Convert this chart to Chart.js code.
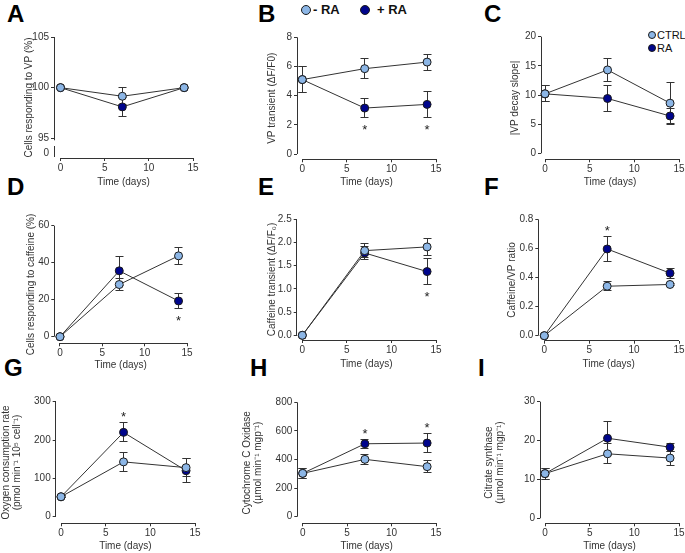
<!DOCTYPE html>
<html>
<head>
<meta charset="utf-8">
<script src="https://cdn.jsdelivr.net/npm/chart.js@4.4.1/dist/chart.umd.min.js"></script>
<style>
  body { margin: 0; background: #fff; }
  #fig { position: relative; width: 685px; height: 553px; overflow: hidden; font-family: 'Liberation Sans', Arial, sans-serif; }
  .letter { position: absolute; font-weight: bold; font-size: 24px; line-height: 24px; color: #000; }
  .dot { position: absolute; border: 1px solid #1a1a1a; border-radius: 50%; box-sizing: border-box; }
  .legtxt { position: absolute; white-space: nowrap; color: #111; }
</style>
</head>
<body>
<div id="fig">
  <div class="letter" style="left:7px;top:2px">A</div>
  <div class="letter" style="left:258px;top:2px">B</div>
  <div class="letter" style="left:484px;top:2px">C</div>
  <div class="letter" style="left:7px;top:175px">D</div>
  <div class="letter" style="left:258px;top:175px">E</div>
  <div class="letter" style="left:484px;top:175px">F</div>
  <div class="letter" style="left:4px;top:356px">G</div>
  <div class="letter" style="left:250px;top:356px">H</div>
  <div class="letter" style="left:478px;top:356px">I</div>

  <!-- legend of panel B -->
  <div class="dot" style="left:301px;top:5px;width:10px;height:10px;background:#8cb6e6"></div>
  <div class="legtxt" style="left:313px;top:2px;font-size:13px;line-height:16px;font-weight:bold">- RA</div>
  <div class="dot" style="left:360px;top:5px;width:10px;height:10px;background:#00058c"></div>
  <div class="legtxt" style="left:377px;top:2px;font-size:13px;line-height:16px;font-weight:bold">+ RA</div>

  <!-- legend of panel C -->
  <div class="dot" style="left:648px;top:31px;width:8px;height:8px;background:#8cb6e6"></div>
  <div class="legtxt" style="left:657px;top:28px;font-size:11px;line-height:14px">CTRL</div>
  <div class="dot" style="left:648px;top:44px;width:8px;height:8px;background:#00058c"></div>
  <div class="legtxt" style="left:657px;top:41px;font-size:11px;line-height:14px">RA</div>
</div>

<script>
// ---- data ----
const days = [0, 7, 14];
const timeTicks = [0, 5, 10, 15];

// A - cells responding to VP (%)
const aTicks = [95, 100, 105];
const aCtrl = [100, 99.15, 100];
const aCtrlSem = [0, 0.85, 0];
const aRa = [100, 98.1, 100];
const aRaSem = [0, 0.9, 0];
const aSig = [0, 0, 0];

// B - VP transient
const bTicks = [0, 2, 4, 6, 8];
const bCtrl = [5.1, 5.85, 6.3];
const bCtrlSem = [0.9, 0.68, 0.55];
const bRa = [5.1, 3.15, 3.4];
const bRaSem = [0.9, 0.63, 0.9];
const bSig = [0, -1, -1];

// C - VP decay slope
const cTicks = [0, 5, 10, 15, 20];
const cCtrl = [10.2, 14.3, 8.6];
const cCtrlSem = [1.35, 1.9, 3.6];
const cRa = [10.2, 9.4, 6.4];
const cRaSem = [1.35, 2.3, 1.3];
const cSig = [0, 0, 0];

// D - cells responding to caffeine (%)
const dTicks = [0, 20, 40, 60];
const dCtrl = [0, 28.2, 43.7];
const dCtrlSem = [0, 3.0, 4.6];
const dRa = [0, 35.6, 19.3];
const dRaSem = [0, 8.0, 4.2];
const dSig = [0, 0, -1];

// E - caffeine transient
const eTicks = [0, 0.5, 1, 1.5, 2, 2.5];
const eCtrl = [0, 1.82, 1.9];
const eCtrlSem = [0, 0.15, 0.19];
const eRa = [0, 1.77, 1.37];
const eRaSem = [0, 0.13, 0.28];
const eSig = [0, 0, -1];

// F - caffeine/VP ratio
const fTicks = [0, 0.2, 0.4, 0.6, 0.8];
const fCtrl = [0, 0.34, 0.352];
const fCtrlSem = [0, 0.03, 0.01];
const fRa = [0, 0.596, 0.43];
const fRaSem = [0, 0.088, 0.035];
const fSig = [0, 1, 0];

// G - oxygen consumption rate
const gTicks = [0, 100, 200, 300];
const gCtrl = [52, 143, 128];
const gCtrlSem = [3, 24, 24];
const gRa = [52, 220, 120];
const gRaSem = [3, 25, 32];
const gSig = [0, 1, 0];

// H - cytochrome C oxidase
const hTicks = [0, 200, 400, 600, 800];
const hCtrl = [303, 401, 350];
const hCtrlSem = [35, 35, 43];
const hRa = [303, 510, 515];
const hRaSem = [35, 32, 64];
const hSig = [0, 1, 1];

// I - citrate synthase
const iTicks = [0, 10, 20, 30];
const iCtrl = [11.5, 16.6, 15.5];
const iCtrlSem = [1.4, 2.6, 1.8];
const iRa = [11.5, 20.6, 18.3];
const iRaSem = [1.4, 4.4, 1.0];
const iSig = [0, 0, 0];

// ---- styling ----
Chart.defaults.font.family = "'Liberation Sans', Arial, Helvetica, sans-serif";
Chart.defaults.font.size = 10;
Chart.defaults.color = '#333';

const LIGHT = '#8cb6e6';
const DARK = '#00058c';
const INK = '#333';
const LH = 1.15;
const TOP_PAD = 24;

// where each plot sits on the page (axis x, axis y, tick 0 / 15 pixels, top / bottom y tick pixels, title centres)
const panels = [
  { title: 'Cells responding to VP (%)', ticks: aTicks, ctrl: aCtrl, ctrlSem: aCtrlSem, ra: aRa, raSem: aRaSem, sig: aSig, dec: 0, brk: '0',
    box: { axisX: 54, axisY: 158, x0: 60.5, x15: 193, yTop: 37, yBot: 138.3, titleX: 29, xTitleY: 182.7 } },
  { title: 'VP transient (ΔF/F0)', ticks: bTicks, ctrl: bCtrl, ctrlSem: bCtrlSem, ra: bRa, raSem: bRaSem, sig: bSig, dec: 0,
    box: { axisX: 297, axisY: 159.3, x0: 302.3, x15: 435.7, yTop: 37.3, yBot: 154, titleX: 272, xTitleY: 182.7 } },
  { title: '|VP decay slope|', ticks: cTicks, ctrl: cCtrl, ctrlSem: cCtrlSem, ra: cRa, raSem: cRaSem, sig: cSig, dec: 0,
    box: { axisX: 541, axisY: 159.3, x0: 545, x15: 679, yTop: 36.7, yBot: 153.3, titleX: 514.3, xTitleY: 182.7 } },
  { title: 'Cells responding to caffeine (%)', ticks: dTicks, ctrl: dCtrl, ctrlSem: dCtrlSem, ra: dRa, raSem: dRaSem, sig: dSig, dec: 0,
    box: { axisX: 54.3, axisY: 343.3, x0: 60, x15: 187.3, yTop: 225.7, yBot: 336.7, titleX: 30.7, xTitleY: 365 } },
  { title: 'Caffeine transient (ΔF/F₀)', ticks: eTicks, ctrl: eCtrl, ctrlSem: eCtrlSem, ra: eRa, raSem: eRaSem, sig: eSig, dec: 1,
    box: { axisX: 296.7, axisY: 340, x0: 302.3, x15: 435.7, yTop: 219, yBot: 335.3, titleX: 271.7, xTitleY: 364.3 } },
  { title: 'Caffeine/VP ratio', ticks: fTicks, ctrl: fCtrl, ctrlSem: fCtrlSem, ra: fRa, raSem: fRaSem, sig: fSig, dec: 1,
    box: { axisX: 538.3, axisY: 340.7, x0: 544.3, x15: 679, yTop: 219.3, yBot: 335.7, titleX: 511.7, xTitleY: 364.3 } },
  { title: ['Oxygen consumption rate', '(pmol min⁻¹ 10⁵ cell⁻¹)'], ticks: gTicks, ctrl: gCtrl, ctrlSem: gCtrlSem, ra: gRa, raSem: gRaSem, sig: gSig, dec: 0,
    box: { axisX: 55.7, axisY: 523.3, x0: 61, x15: 195, yTop: 401.7, yBot: 516.7, titleX: 6, xTitleY: 546.7 } },
  { title: ['Cytochrome C Oxidase', '(µmol min⁻¹ mgp⁻¹)'], ticks: hTicks, ctrl: hCtrl, ctrlSem: hCtrlSem, ra: hRa, raSem: hRaSem, sig: hSig, dec: 0,
    box: { axisX: 297.3, axisY: 523.3, x0: 302.7, x15: 435.7, yTop: 402.3, yBot: 516.7, titleX: 246.7, xTitleY: 546.7 } },
  { title: ['Citrate synthase', '(µmol min⁻¹ mgp⁻¹)'], ticks: iTicks, ctrl: iCtrl, ctrlSem: iCtrlSem, ra: iRa, raSem: iRaSem, sig: iSig, dec: 0,
    box: { axisX: 540, axisY: 523.3, x0: 545, x15: 679, yTop: 401.7, yBot: 518.3, titleX: 488.3, xTitleY: 546.7 } }
];

const al = v => Math.round(v - 0.5) + 0.5;

// axis lines (GraphPad style, offset), error bars and significance stars
function prismPlugin(p, brkVal) {
  return {
    id: 'prism',
    beforeDatasetsDraw(chart) {
      const ctx = chart.ctx, xs = chart.scales.x, ys = chart.scales.y, ca = chart.chartArea;
      ctx.save();
      ctx.strokeStyle = INK;
      ctx.lineWidth = 1;
      ctx.beginPath();
      const xa = al(ca.left), yb = al(ca.bottom);
      const yHi = ys.getPixelForValue(p.ticks[p.ticks.length - 1]);
      const yLo = ys.getPixelForValue(p.ticks[0]);
      if (brkVal !== null) {
        ctx.moveTo(xa, yHi); ctx.lineTo(xa, yLo + 2);
        ctx.moveTo(xa, ca.bottom - 12); ctx.lineTo(xa, ca.bottom - 1);
      } else {
        ctx.moveTo(xa, yHi); ctx.lineTo(xa, yLo);
      }
      ctx.moveTo(xs.getPixelForValue(timeTicks[0]), yb);
      ctx.lineTo(xs.getPixelForValue(timeTicks[timeTicks.length - 1]), yb);
      ctx.stroke();

      // error bars
      chart.data.datasets.forEach((ds, i) => {
        const meta = chart.getDatasetMeta(i);
        meta.data.forEach((pt, j) => {
          const e = ds.sem[j];
          if (!e) return;
          const v = ds.data[j].y;
          const x = al(pt.x);
          const y1 = al(ys.getPixelForValue(v + e)), y2 = al(ys.getPixelForValue(v - e));
          ctx.beginPath();
          ctx.moveTo(x, y1); ctx.lineTo(x, y2);
          ctx.moveTo(x - 4, y1); ctx.lineTo(x + 4, y1);
          ctx.moveTo(x - 4, y2); ctx.lineTo(x + 4, y2);
          ctx.stroke();
        });
      });
      ctx.restore();
    },
    afterDatasetsDraw(chart) {
      const ctx = chart.ctx, ys = chart.scales.y;
      const ds = chart.data.datasets[1], meta = chart.getDatasetMeta(1);
      ctx.save();
      ctx.fillStyle = '#222';
      ctx.font = "13px 'Liberation Sans', Arial, sans-serif";
      ctx.textAlign = 'center';
      ctx.textBaseline = 'alphabetic';
      p.sig.forEach((s, j) => {
        if (!s) return;
        const yc = ys.getPixelForValue(ds.data[j].y + s * ds.sem[j]) - s * 9;
        ctx.fillText('*', meta.data[j].x, yc + 7.5);
      });
      ctx.restore();
    }
  };
}

function series(vals, sem, fill, label) {
  return {
    label: label,
    data: days.map((d, i) => ({ x: d, y: vals[i] })),
    sem: sem,
    borderColor: INK,
    borderWidth: 1,
    tension: 0,
    pointRadius: 4,
    pointBackgroundColor: fill,
    pointBorderColor: '#1a1a1a',
    pointBorderWidth: 1,
    clip: false
  };
}

const fig = document.getElementById('fig');

panels.forEach(p => {
  const g = p.box;
  const n = p.ticks.length;
  const yHiVal = p.ticks[n - 1], yLoVal = p.ticks[0];
  const pxY = (g.yBot - g.yTop) / (yHiVal - yLoVal);
  const yMin = yLoVal - (g.axisY - g.yBot) / pxY;
  const pxX = (g.x15 - g.x0) / 15;
  const xMin = -(g.x0 - g.axisX) / pxX;

  const left = Math.round(g.titleX - 10 * LH / 2);
  const top = Math.round(g.yTop - TOP_PAD);
  const width = Math.round(g.x15 + 8) - left;
  const height = Math.round(g.xTitleY + 10 * LH / 2) - top;
  const yW = g.axisX - left;
  const xH = top + height - g.axisY;
  const brkVal = p.brk ? yMin + 4.7 / pxY : null;

  const cv = document.createElement('canvas');
  cv.width = width;
  cv.height = height;
  cv.style.cssText = `position:absolute;left:${left}px;top:${top}px;width:${width}px;height:${height}px`;
  fig.appendChild(cv);

  new Chart(cv, {
    type: 'line',
    data: {
      datasets: [series(p.ctrl, p.ctrlSem, LIGHT, 'CTRL'), series(p.ra, p.raSem, DARK, 'RA')]
    },
    options: {
      responsive: false,
      animation: false,
      events: [],
      layout: { padding: { left: 0, top: g.yTop - top, right: 8, bottom: 0 } },
      plugins: { legend: { display: false }, tooltip: { enabled: false } },
      scales: {
        x: {
          type: 'linear',
          min: xMin,
          max: 15,
          afterBuildTicks: s => { s.ticks = timeTicks.map(v => ({ value: v })); },
          afterFit: s => { s.height = xH; },
          grid: { drawOnChartArea: false, drawTicks: true, tickLength: 3, color: INK },
          border: { display: false },
          ticks: { padding: 1, maxRotation: 0, autoSkip: false, color: INK },
          title: { display: true, text: 'Time (days)', color: INK, padding: 0, font: { size: 10, lineHeight: LH } }
        },
        y: {
          type: 'linear',
          min: yMin,
          max: yHiVal,
          afterBuildTicks: s => {
            const t = p.ticks.map(v => ({ value: v }));
            if (brkVal !== null) t.unshift({ value: brkVal });
            s.ticks = t;
          },
          afterFit: s => { s.width = yW; },
          grid: {
            drawOnChartArea: false, drawTicks: true, tickLength: 3,
            color: c => (brkVal !== null && c.tick && Math.abs(c.tick.value - brkVal) < 1e-9) ? 'rgba(0,0,0,0)' : INK
          },
          border: { display: false },
          ticks: {
            padding: 2,
            autoSkip: false,
            color: INK,
            callback: v => (brkVal !== null && Math.abs(v - brkVal) < 1e-9) ? p.brk : v.toFixed(p.dec)
          },
          title: { display: true, text: p.title, color: INK, padding: 0, font: { size: 10, lineHeight: LH } }
        }
      }
    },
    plugins: [prismPlugin(p, brkVal)]
  });
});
</script>
</body>
</html>
